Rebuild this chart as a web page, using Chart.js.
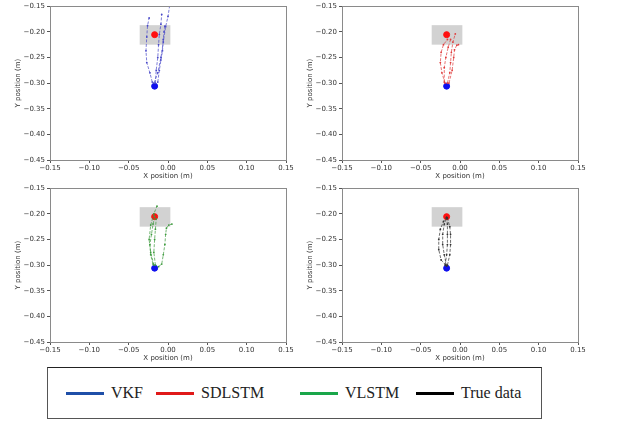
<!DOCTYPE html>
<html><head><meta charset="utf-8">
<script src="https://cdn.jsdelivr.net/npm/chart.js@4/dist/chart.umd.min.js"></script>
<style>
body{margin:0;background:#fff;width:617px;height:432px;position:relative;overflow:hidden;font-family:"DejaVu Sans"}
canvas{position:absolute}
#legend{position:absolute;left:47px;top:367px;width:495px;height:52px;border:1px solid #555;border-top-color:#222;box-sizing:border-box;font-family:"Liberation Serif";font-size:16px;color:#222}
.item{position:absolute;top:0;height:50px;display:flex;align-items:center;white-space:nowrap}
.sw{display:inline-block;width:38px;height:3px;margin-right:7px}
</style></head><body>
<canvas id="c1" style="left:0;top:0"></canvas>
<canvas id="c2" style="left:292px;top:0"></canvas>
<canvas id="c3" style="left:0;top:182px"></canvas>
<canvas id="c4" style="left:292px;top:182px"></canvas>
<div id="legend"></div>
<script>
// ---- data ----
const xTicks = [-0.15, -0.10, -0.05, 0.00, 0.05, 0.10, 0.15];
const yTicks = [-0.15, -0.20, -0.25, -0.30, -0.35, -0.40, -0.45];
const xTitle = "X position (m)";
const yTitle = "Y position (m)";
const startPoint = [-0.017, -0.306];
const goalPoint = [-0.017, -0.2055];
const targetBox = [-0.036, 0.003, -0.225, -0.187]; // xmin, xmax, ymin, ymax
const seriesNames = ["VKF", "SDLSTM", "VLSTM", "True data"];
const seriesColors = ["#1f4fa8", "#e01919", "#1aa64a", "#000000"];
const traceColors = ["#4848c8", "#e03a3a", "#3c9a3c", "#333333"];

const vkfTracks = [
  [[-0.018,-0.300],[-0.013,-0.280],[-0.009,-0.250],[-0.006,-0.220],[-0.003,-0.190],[0.000,-0.170],[0.002,-0.150]],
  [[-0.020,-0.298],[-0.023,-0.280],[-0.027,-0.260],[-0.028,-0.237],[-0.027,-0.210],[-0.026,-0.188],[-0.024,-0.173]],
  [[-0.016,-0.300],[-0.015,-0.275],[-0.013,-0.250],[-0.012,-0.225],[-0.011,-0.205],[-0.009,-0.185],[-0.008,-0.166]],
  [[-0.013,-0.298],[-0.011,-0.275],[-0.009,-0.255],[-0.007,-0.237],[-0.006,-0.215],[-0.005,-0.200],[-0.004,-0.189]]
];
const sdlstmTracks = [
  [[-0.019,-0.300],[-0.023,-0.280],[-0.025,-0.260],[-0.024,-0.240],[-0.021,-0.225],[-0.016,-0.215]],
  [[-0.016,-0.300],[-0.013,-0.280],[-0.012,-0.260],[-0.011,-0.240],[-0.009,-0.220],[-0.006,-0.204]],
  [[-0.020,-0.298],[-0.020,-0.270],[-0.018,-0.250],[-0.015,-0.230],[-0.012,-0.215]],
  [[-0.014,-0.300],[-0.010,-0.275],[-0.008,-0.250],[-0.007,-0.235],[-0.004,-0.226],[-0.002,-0.225]]
];
const vlstmTracks = [
  [[-0.018,-0.300],[-0.022,-0.275],[-0.024,-0.250],[-0.022,-0.222],[-0.018,-0.200],[-0.014,-0.185]],
  [[-0.012,-0.303],[-0.008,-0.298],[-0.006,-0.280],[-0.004,-0.260],[-0.003,-0.240],[-0.002,-0.228],[0.001,-0.222],[0.005,-0.220]],
  [[-0.019,-0.298],[-0.022,-0.280],[-0.023,-0.260],[-0.021,-0.240],[-0.019,-0.220],[-0.017,-0.205]],
  [[-0.016,-0.300],[-0.018,-0.275],[-0.017,-0.250],[-0.016,-0.230],[-0.015,-0.210]]
];
const trueTracks = [
  [[-0.018,-0.300],[-0.024,-0.290],[-0.027,-0.270],[-0.027,-0.250],[-0.025,-0.230],[-0.021,-0.215],[-0.017,-0.207]],
  [[-0.017,-0.302],[-0.020,-0.280],[-0.022,-0.260],[-0.022,-0.240],[-0.020,-0.220],[-0.017,-0.208]],
  [[-0.016,-0.300],[-0.013,-0.280],[-0.012,-0.260],[-0.012,-0.240],[-0.013,-0.225],[-0.016,-0.208]],
  [[-0.019,-0.300],[-0.017,-0.280],[-0.016,-0.260],[-0.016,-0.240],[-0.016,-0.220],[-0.017,-0.207]]
];
const panelTracks = [vkfTracks, sdlstmTracks, vlstmTracks, trueTracks];

// ---- drawing ----
const fmt = v => (v < 0 ? "\u2212" : "") + Math.abs(v).toFixed(2);
const framePlugin = {
  id: "frame",
  beforeDatasetsDraw(chart) {
    const {ctx, scales: {x, y}} = chart;
    const x0 = x.getPixelForValue(targetBox[0]), x1 = x.getPixelForValue(targetBox[1]);
    const y0 = y.getPixelForValue(targetBox[3]), y1 = y.getPixelForValue(targetBox[2]);
    ctx.save(); ctx.fillStyle = "#d2d2d2"; ctx.fillRect(x0, y0, x1 - x0, y1 - y0); ctx.restore();
  },
  afterDraw(chart) {
    const {ctx, chartArea: a} = chart;
    ctx.save(); ctx.strokeStyle = "#8a8a8a"; ctx.lineWidth = 1;
    ctx.strokeRect(Math.round(a.left) + 0.5, Math.round(a.top) + 0.5, Math.round(a.right - a.left), Math.round(a.bottom - a.top));
    ctx.restore();
  }
};

function makeChart(id, tracks, color) {
  const cv = document.getElementById(id);
  cv.width = 300; cv.height = 182;
  const datasets = tracks.map(t => ({
    data: t.map(p => ({x: p[0], y: p[1]})),
    showLine: true, borderColor: color, backgroundColor: color,
    borderWidth: 0.7, borderDash: [3, 1.5], pointRadius: 0.9, pointBorderWidth: 0
  }));
  datasets.push({data: [{x: goalPoint[0], y: goalPoint[1]}], pointRadius: 3, backgroundColor: "#ff1010", borderColor: "#ff1010", pointStyle: "circle"});
  datasets.push({data: [{x: startPoint[0], y: startPoint[1]}], pointRadius: 3, backgroundColor: "#1010ee", borderColor: "#1010ee", pointStyle: "circle"});
  const tickFont = {family: "DejaVu Sans", size: 7};
  return new Chart(cv, {
    type: "scatter",
    data: {datasets},
    plugins: [framePlugin],
    options: {
      responsive: false, animation: false, events: [],
      layout: {padding: {top: 5, right: 14, left: 0, bottom: 0}},
      plugins: {legend: {display: false}, tooltip: {enabled: false}},
      scales: {
        x: {
          type: "linear", min: -0.15, max: 0.15,
          afterBuildTicks: s => { s.ticks = xTicks.map(v => ({value: v})); },
          afterFit: s => { s.height = 22; },
          ticks: {callback: fmt, font: tickFont, color: "#333", maxRotation: 0, autoSkip: false, padding: 1},
          grid: {drawOnChartArea: false, drawTicks: true, tickLength: 3, color: "#555"},
          border: {display: false},
          title: {display: true, text: xTitle, font: tickFont, color: "#333", padding: {top: 0, bottom: 2}}
        },
        y: {
          type: "linear", min: -0.45, max: -0.15,
          afterBuildTicks: s => { s.ticks = yTicks.map(v => ({value: v})); },
          afterFit: s => { s.width = 50; },
          ticks: {callback: fmt, font: tickFont, color: "#333", autoSkip: false, padding: 2},
          grid: {drawOnChartArea: false, drawTicks: true, tickLength: 3, color: "#555"},
          border: {display: false},
          title: {display: true, text: yTitle, font: tickFont, color: "#333", padding: {top: 14, bottom: 0}}
        }
      }
    }
  });
}
["c1", "c2", "c3", "c4"].forEach((id, i) => makeChart(id, panelTracks[i], traceColors[i]));

// legend
const lg = document.getElementById("legend");
const lgLeft = [18, 108, 252, 368];
seriesNames.forEach((n, i) => {
  const d = document.createElement("div");
  d.className = "item"; d.style.left = lgLeft[i] + "px";
  const sw = document.createElement("span"); sw.className = "sw"; sw.style.background = seriesColors[i];
  d.appendChild(sw); d.appendChild(document.createTextNode(n));
  lg.appendChild(d);
});
</script>
</body></html>
